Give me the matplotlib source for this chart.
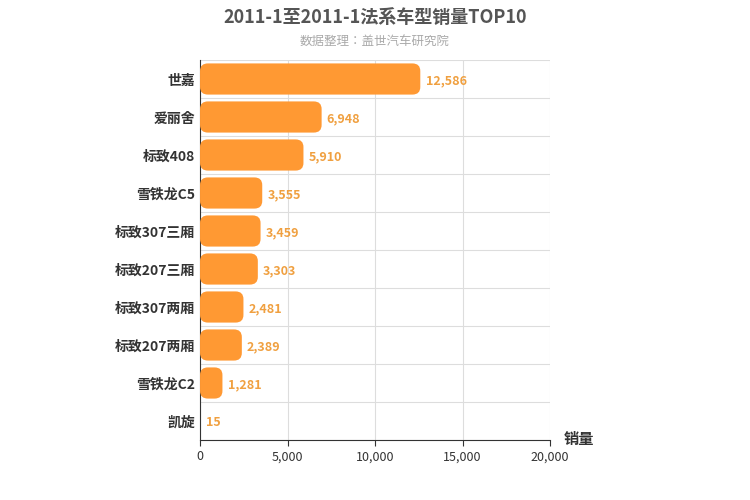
import matplotlib.pyplot as plt
from matplotlib.patches import FancyBboxPatch
from matplotlib import font_manager

cjk = [f.name for f in font_manager.fontManager.ttflist if 'CJK' in f.name]
plt.rcParams['font.family'] = ['Noto Sans CJK SC', 'Noto Sans CJK JP'] + sorted(set(cjk)) + ['DejaVu Sans']

models = ["世嘉", "爱丽舍", "标致408", "雪铁龙C5", "标致307三厢", "标致207三厢",
          "标致307两厢", "标致207两厢", "雪铁龙C2", "凯旋"]
sales = [12586, 6948, 5910, 3555, 3459, 3303, 2481, 2389, 1281, 15]
xticks = [0, 5000, 10000, 15000, 20000]

fig = plt.figure(figsize=(7.5, 5), dpi=100)
ax = fig.add_axes([0.2667, 0.12, 0.4667, 0.76])

n = len(models)
ax.set_xlim(0, 20000)
ax.set_ylim(n - 0.5, -0.5)
bar_h = 0.82
r = 450
asp = 0.2 / 450
for i, v in enumerate(sales):
    if v <= 50:
        continue
    w = max(v - 2 * r, 0)
    p = FancyBboxPatch((r if v > 2 * r else v / 2, i - bar_h / 2 + r * asp), w, bar_h - 2 * r * asp,
                       boxstyle=f"round,pad={r}", mutation_aspect=asp,
                       fc='#FF9933', ec='none', zorder=3)
    ax.add_patch(p)
for i, v in enumerate(sales):
    ax.text(v + 300, i + 0.05, f"{v:,}", va='center', ha='left', color='#F0A040',
            fontsize=9, fontweight='bold', zorder=4)

ax.set_yticks(range(n))
ax.set_yticklabels(models, fontsize=10, fontweight='bold', color='#333333')
ax.set_xticks(xticks)
ax.set_xticklabels([f"{x:,}" for x in xticks], fontsize=9, color='#333333')
ax.set_yticks([i + 0.5 for i in range(-1, n)], minor=True)
ax.grid(axis='y', which='minor', color='#dddddd', lw=0.8)
ax.grid(axis='x', which='major', color='#dddddd', lw=0.8)
ax.tick_params(axis='y', which='both', length=0)
ax.tick_params(axis='x', length=4, color='#333333')
for s in ['top', 'right']:
    ax.spines[s].set_visible(False)
ax.spines['left'].set_color('#333333')
ax.spines['bottom'].set_color('#333333')
ax.set_axisbelow(True)

fig.text(0.5, 0.965, "2011-1至2011-1法系车型销量TOP10", ha='center', va='center',
         fontsize=13, fontweight='bold', color='#555555')
fig.text(0.5, 0.918, "数据整理：盖世汽车研究院", ha='center', va='center',
         fontsize=9, color='#aaaaaa')
fig.text(0.752, 0.122, "销量", ha='left', va='center', fontsize=11,
         fontweight='bold', color='#333333')

fig.savefig('out.png', dpi=100)
